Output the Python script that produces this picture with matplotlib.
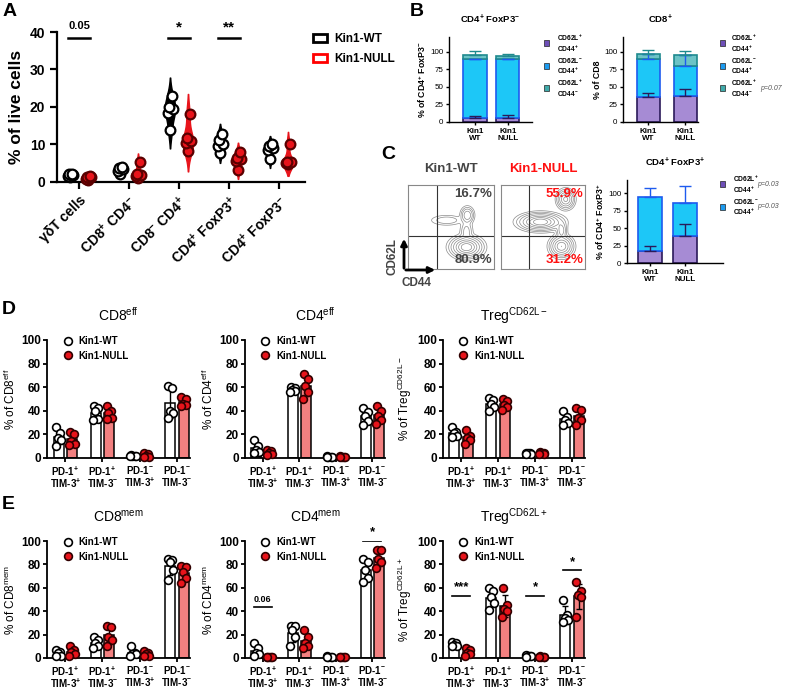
import numpy as np
import matplotlib
matplotlib.use('Agg')
import matplotlib.pyplot as plt
import matplotlib.patches as mpatches
from matplotlib.lines import Line2D
from matplotlib import mlab

plt.rcParams['font.family'] = ['Liberation Sans', 'DejaVu Sans']
plt.rcParams['mathtext.fontset'] = 'custom'
plt.rcParams['mathtext.rm'] = 'Liberation Sans'
plt.rcParams['mathtext.it'] = 'Liberation Sans:italic'
plt.rcParams['mathtext.bf'] = 'Liberation Sans:bold'
plt.rcParams['mathtext.default'] = 'regular'

# ---------------- DATA ----------------
# Panel A
a_categories = ['γδT cells', 'CD8$^{+}$ CD4$^{-}$', 'CD8$^{-}$ CD4$^{+}$',
                'CD4$^{+}$ FoxP3$^{+}$', 'CD4$^{+}$ FoxP3$^{-}$']
a_wt = [[1.2, 1.5, 1.8, 2.0, 2.2], [2.0, 3.0, 3.5, 3.8, 4.0], [13.8, 18.3, 19.5, 20.0, 23.0],
        [7.8, 9.5, 10.1, 11.2, 12.8], [6.0, 8.5, 9.0, 9.5, 10.0]]
a_null = [[0.6, 0.9, 1.2, 1.3, 1.5], [1.0, 1.5, 1.8, 2.0, 5.2], [8.2, 10.5, 11.0, 11.6, 18.1],
          [3.3, 5.6, 6.2, 6.5, 8.0], [4.9, 5.0, 5.2, 5.2, 10.1]]
a_sig_groups = [0, 2, 3]
a_sig_labels = ['0.05', '*', '**']
a_yticks = [0, 10, 20, 30, 40]
groups_legend = ['Kin1-WT', 'Kin1-NULL']

# Panel B / C (stacked)
stack_labels = ['CD62L$^{+}$\nCD44$^{+}$', 'CD62L$^{-}$\nCD44$^{+}$', 'CD62L$^{+}$\nCD44$^{-}$']
bar_ticklabels = ['Kin1\nWT', 'Kin1\nNULL']
b1_vals = [[6, 6], [83, 83], [7, 5]]
b1_errs = [[3, 4], [1, 1], [5, 3]]
b2_vals = [[36, 37], [53, 43], [8, 16]]
b2_errs = [[5, 10], [8, 16], [6, 5]]
c_vals = [[17, 38], [78, 48]]
c_errs = [[8, 18], [12, 25]]
b2_pvals = ['', '', 'p=0.07']
c_pvals = ['p=0.03', 'p=0.03']
stack_yticks = [0, 25, 50, 75, 100]

# Panel C flow
flow_pct_wt = ['16.7%', '80.9%']
flow_pct_null = ['55.9%', '31.2%']
# cluster params: x, y, sx, sy, weight (fraction of plot box)
flow_wt_clusters = [(0.68, 0.26, 0.08, 0.055, 1.0), (0.69, 0.64, 0.035, 0.045, 0.3),
                    (0.45, 0.58, 0.09, 0.03, 0.08), (0.68, 0.45, 0.035, 0.06, 0.12)]
flow_null_clusters = [(0.47, 0.56, 0.11, 0.045, 1.0), (0.77, 0.83, 0.045, 0.05, 0.6),
                      (0.72, 0.27, 0.06, 0.055, 0.75), (0.72, 0.46, 0.03, 0.05, 0.25)]
flow_levels = [0.012, 0.035, 0.08, 0.17, 0.32, 0.52, 0.75]

# Panels D / E
pd_groups = ['PD-1$^{+}$\nTIM-3$^{+}$', 'PD-1$^{+}$\nTIM-3$^{-}$',
             'PD-1$^{-}$\nTIM-3$^{+}$', 'PD-1$^{-}$\nTIM-3$^{-}$']
de_yticks = [0, 20, 40, 60, 80, 100]
d_cd8eff_wt = [[26, 21, 17, 15, 10], [44, 42, 40, 33, 32], [2.5, 2, 2, 1.5, 1.5], [61, 59, 40, 38, 34]]
d_cd8eff_null = [[22, 20, 14, 12, 11], [44, 40, 38, 34, 33], [4, 3.5, 2, 1, 1], [52, 50, 46, 45, 44]]
d_cd4eff_wt = [[15, 10, 7, 5, 4], [60, 59, 58, 57, 56], [1.5, 1, 1, 0.8, 0.5], [42, 39, 36, 31, 28]]
d_cd4eff_null = [[7, 6, 4, 3, 2.5], [71, 67, 61, 56, 50], [1.5, 1.2, 1, 1, 0.8], [44, 40, 36, 32, 29]]
d_treg_wt = [[26, 22, 21, 19, 18], [51, 49, 46, 43, 40], [4.5, 4, 4, 3.5, 3], [40, 35, 32, 30, 28]]
d_treg_null = [[24, 19, 17, 15, 12], [50, 48, 45, 43, 41], [5.5, 4.5, 4, 3.5, 3], [42, 41, 34, 32, 28]]
e_cd8mem_wt = [[7, 5, 4, 2, 1.5], [18, 15.5, 13, 10, 8.5], [10, 4, 3.4, 3, 2], [85, 83.5, 82, 75, 66.5]]
e_cd8mem_null = [[10, 7, 5, 3, 1.5], [27, 26.5, 18, 15.5, 10], [6, 4, 3, 2, 1.5], [79, 78, 73.6, 68, 64]]
e_cd4mem_wt = [[13, 8.5, 4, 3, 1.5], [27, 27, 24, 18, 10], [1.5, 1.2, 1, 0.8, 0.5], [85, 82, 75.6, 68, 65]]
e_cd4mem_null = [[1.2, 1, 0.8, 0.6, 0.5], [24, 18, 13, 10, 8.5], [1.2, 1, 1, 0.8, 0.5], [92.6, 92, 85, 82, 76.5]]
e_treg_wt = [[14, 13, 11, 10.5, 10], [59.5, 57, 52, 47, 41], [2.5, 2, 1.5, 1.5, 1], [49.6, 37, 34, 32.6, 31]]
e_treg_null = [[8.5, 7, 4, 3, 1.5], [59.5, 45, 42, 40, 35.4], [1.5, 1, 1, 0.8, 0.5], [65, 57, 54, 52, 35]]
e_cd4mem_sig = [(0, '0.06', 44), (3, '*', 100)]
e_treg_sig = [(0, '***', 53), (2, '*', 53), (3, '*', 75)]

# ---------------- STYLE ----------------
W, H = 786, 689
fig = plt.figure(figsize=(W / 100, H / 100), dpi=100)
RED = '#E8141B'
PURPLE, PURPLE_E = '#A68BD4', '#2B1A5A'
BLUE, BLUE_E = '#1DC7F7', '#1E5BEF'
TEAL, TEAL_E = '#6CC3C6', '#1F8A8E'
stack_fc = [PURPLE, BLUE, TEAL]
stack_ec = [PURPLE_E, BLUE_E, TEAL_E]
stack_leg = ['#6E4FB8', '#1C9BF0', '#3FAAAA']


def ax_px(l, r, t, b):
    return fig.add_axes([l / W, 1 - b / H, (r - l) / W, (b - t) / H])


def fx(x):
    return x / W


def fy(y):
    return 1 - y / H


def clean(ax, lw=1.2):
    for s in ['top', 'right']:
        ax.spines[s].set_visible(False)
    for s in ['left', 'bottom']:
        ax.spines[s].set_linewidth(lw)


def letter(x, y, s):
    fig.text(fx(x), fy(y), s, fontsize=14, fontweight='bold', va='top', ha='left')


# ---------------- PANEL A ----------------
axA = ax_px(57, 305, 32, 182)
clean(axA, 1.6)
off = 0.18
jitA = [0.0, -0.05, 0.05, -0.03, 0.04]
for i, (w, n) in enumerate(zip(a_wt, a_null)):
    for data, pos, col in [(w, i - off, 'black'), (n, i + off, RED)]:
        d = np.asarray(data, float)
        kde = mlab.GaussianKDE(d, 'scott')
        bw = np.sqrt(kde.covariance.item())
        coords = np.linspace(d.min() - 2 * bw, d.max() + 2 * bw, 100)
        vals = kde.evaluate(coords)
        st = [dict(coords=coords, vals=vals, mean=d.mean(), median=np.median(d), min=d.min(), max=d.max())]
        vp = axA.violin(st, positions=[pos], widths=0.21, showmeans=False, showextrema=False,
                        showmedians=False)
        for b in vp['bodies']:
            b.set_facecolor(col)
            b.set_edgecolor(col)
            b.set_alpha(1)
            b.set_zorder(2)
        fc = 'white' if col == 'black' else RED
        ec = 'black' if col == 'black' else '#5a0000'
        axA.plot(pos + np.array(jitA[:len(d)]), d, 'o', ms=7, mfc=fc, mec=ec, mew=1.6, zorder=3,
                 clip_on=False)
axA.set_xlim(-0.44, 4.52)
axA.set_ylim(0, 40)
axA.set_yticks(a_yticks)
axA.set_xticks(range(len(a_categories)))
axA.set_xticklabels(a_categories, rotation=45, ha='right', va='top', rotation_mode='anchor',
                    fontsize=10, fontweight='bold')
axA.tick_params(axis='y', labelsize=10, width=1.6, length=5)
axA.tick_params(axis='x', width=1.6, length=5, pad=3)
for t in axA.get_yticklabels():
    t.set_fontweight('bold')
axA.set_ylabel('% of live cells', fontsize=12.5, fontweight='bold', labelpad=4)
for g, lab in zip(a_sig_groups, a_sig_labels):
    axA.plot([g - 0.22, g + 0.22], [38.4, 38.4], color='black', lw=1.8, clip_on=False)
    axA.text(g, 40.2 if lab == '0.05' else 39.3, lab, ha='center', va='bottom',
             fontsize=8 if lab == '0.05' else 11, fontweight='bold', clip_on=False)
legA = [mpatches.Patch(facecolor='white', edgecolor='black', lw=2),
        mpatches.Patch(facecolor='white', edgecolor='red', lw=2)]
fig.legend(legA, groups_legend, loc='upper left', bbox_to_anchor=(fx(313), fy(33)),
           frameon=False, prop={'weight': 'bold', 'size': 8.5},
           handlelength=1.2, handleheight=0.7, handletextpad=0.6, labelspacing=0.7,
           borderpad=0, borderaxespad=0)
letter(3, 3, 'A')


# ---------------- PANEL B / C stacked ----------------
def stacked(ax, vals, errs, xlim, ylim, title, ylabel, width):
    clean(ax, 1.0)
    x = np.arange(2)
    bottoms = np.zeros(2)
    for k, (v, e) in enumerate(zip(vals, errs)):
        v = np.asarray(v, float)
        ax.bar(x, v, bottom=bottoms, width=width, color=stack_fc[k], edgecolor=stack_ec[k],
               lw=1.2, zorder=2)
        tops = bottoms + v
        ax.errorbar(x, tops, yerr=[np.zeros(2), e], fmt='none', ecolor=stack_ec[k],
                    elinewidth=1.0, capsize=4, capthick=1.0, zorder=3)
        bottoms = tops
    ax.set_xlim(*xlim)
    ax.set_ylim(0, ylim)
    ax.set_yticks(stack_yticks)
    ax.set_xticks(x)
    ax.set_xticklabels(bar_ticklabels, fontsize=5.8, fontweight='bold', linespacing=1.1)
    ax.tick_params(axis='y', labelsize=5.8, width=1.0, length=2.5, pad=1.5)
    ax.tick_params(axis='x', width=1.0, length=2.5, pad=1.5)
    ax.set_title(title, fontsize=6.8, fontweight='bold', pad=10)
    ax.set_ylabel(ylabel, fontsize=6.3, fontweight='bold', labelpad=1.5)


def stack_legend(x_sq, x_txt, ys, labels, colors, pvals=None, x_p=None):
    for k, (y, lab) in enumerate(zip(ys, labels)):
        fig.patches.append(mpatches.Rectangle((fx(x_sq - 2.5), fy(y + 2.5)), 5 / W, 5 / H,
                                              transform=fig.transFigure, facecolor=colors[k],
                                              edgecolor='#222222', lw=0.5))
        fig.text(fx(x_txt), fy(y), lab, fontsize=4.8, fontweight='bold', va='center', ha='left',
                 linespacing=1.05)
        if pvals is not None and pvals[k]:
            fig.text(fx(x_p), fy(y), pvals[k], fontsize=5, style='italic', color='#555555',
                     va='center', ha='left')


axB1 = ax_px(449, 532, 37, 122)
stacked(axB1, b1_vals, b1_errs, (-0.79, 1.73), 121, 'CD4$^{+}$ FoxP3$^{-}$',
        '% of CD4$^{+}$ FoxP3$^{-}$', 0.7)
stack_legend(546, 557, [43, 66, 88], stack_labels, stack_leg)
axB2 = ax_px(623, 698, 37, 122)
stacked(axB2, b2_vals, b2_errs, (-0.68, 1.35), 121, 'CD8$^{+}$', '% of CD8', 0.62)
stack_legend(722, 731, [43, 66, 88], stack_labels, stack_leg, b2_pvals, 760)
letter(410, 3, 'B')

axC = ax_px(627, 723, 180, 263)
stacked(axC, c_vals, c_errs, (-0.66, 2.1), 119, 'CD4$^{+}$ FoxP3$^{+}$',
        '% of CD4$^{+}$ FoxP3$^{+}$', 0.68)
stack_legend(722, 733, [184, 207], stack_labels[:2], stack_leg, c_pvals, 757)
letter(381, 146, 'C')

# flow plots
gx = np.linspace(0, 1, 300)
GX, GY = np.meshgrid(gx, gx)


def flow(ax, clusters, qx, qy, pcts, color, name, namecolor):
    Z = np.zeros_like(GX)
    for (cx, cy, sx, sy, wgt) in clusters:
        Z += wgt * np.exp(-((GX - cx) ** 2 / (2 * sx ** 2) + (GY - cy) ** 2 / (2 * sy ** 2)))
    lev = Z.max() * np.array(flow_levels)
    ax.contour(GX, GY, Z, levels=lev, colors='#8a8a8a', linewidths=0.5)
    ax.axvline(qx, color='#333333', lw=0.8)
    ax.axhline(qy, color='#333333', lw=0.8)
    ax.set_xlim(0, 1)
    ax.set_ylim(0, 1)
    ax.set_xticks([])
    ax.set_yticks([])
    for s in ax.spines.values():
        s.set_color('#888888')
        s.set_linewidth(0.8)
    ax.text(0.98, 0.97, pcts[0], transform=ax.transAxes, ha='right', va='top', fontsize=9.5,
            fontweight='bold', color=color)
    ax.text(0.98, 0.03, pcts[1], transform=ax.transAxes, ha='right', va='bottom', fontsize=9.5,
            fontweight='bold', color=color)
    ax.text(0.5, 1.12, name, transform=ax.transAxes, ha='center', va='bottom', fontsize=9.5,
            fontweight='bold', color=namecolor)


axF1 = ax_px(408, 494, 185, 269)
flow(axF1, flow_wt_clusters, 0.34, 0.39, flow_pct_wt, '#444444', 'Kin1-WT', '#444444')
axF2 = ax_px(501, 585, 185, 269)
flow(axF2, flow_null_clusters, 0.33, 0.39, flow_pct_null, '#FF1010', 'Kin1-NULL', '#FF1010')
fig.patches.append(mpatches.FancyArrowPatch((fx(404), fy(271)), (fx(404), fy(236)),
                                            transform=fig.transFigure, arrowstyle='-|>',
                                            mutation_scale=9, lw=2, color='black'))
fig.patches.append(mpatches.FancyArrowPatch((fx(403), fy(270)), (fx(438), fy(270)),
                                            transform=fig.transFigure, arrowstyle='-|>',
                                            mutation_scale=9, lw=2, color='black'))
fig.text(fx(392), fy(257), 'CD62L', rotation=90, ha='center', va='center', fontsize=8.5,
         fontweight='bold', color='#444444')
fig.text(fx(401), fy(283), 'CD44', ha='left', va='center', fontsize=8.5,
         fontweight='bold', color='#444444')


# ---------------- PANELS D / E ----------------
jitD = [-0.06, 0.05, -0.02, 0.07, -0.07]


def dotbar(ax, wt, nl, title, ylabel, sigs=()):
    clean(ax, 1.3)
    x = np.arange(4)
    o = 0.18
    bw = 0.27
    for data, sh, fcb, fcp, ecp in [(wt, -o, 'white', 'white', 'black'),
                                    (nl, o, '#F28080', RED, '#300000')]:
        means = np.array([np.mean(d) for d in data])
        sds = np.array([np.std(d, ddof=1) for d in data])
        ax.bar(x + sh, means, width=bw, color=fcb, edgecolor='black', lw=1.1, zorder=2)
        ax.errorbar(x + sh, means, yerr=sds, fmt='none', ecolor='black', elinewidth=1.0,
                    capsize=2.5, capthick=1.0, zorder=3)
        for i, d in enumerate(data):
            ax.plot(x[i] + sh + np.array(jitD[:len(d)]), d, 'o', ms=5.6, mfc=fcp, mec=ecp,
                    mew=1.2, zorder=4, clip_on=False)
    ax.set_xlim(-0.49, 3.35)
    ax.set_ylim(0, 100)
    ax.set_yticks(de_yticks)
    ax.set_xticks(x)
    ax.set_xticklabels(pd_groups, fontsize=7, fontweight='bold', linespacing=0.95)
    ax.tick_params(axis='y', labelsize=8.5, width=1.3, length=3, pad=1.5)
    ax.tick_params(axis='x', width=1.3, length=3, pad=1.5)
    for t in ax.get_yticklabels():
        t.set_fontweight('bold')
    ax.set_title(title, fontsize=10, pad=14)
    ax.set_ylabel(ylabel, fontsize=8.5, labelpad=2)
    for g, lab, y in sigs:
        ax.plot([g - 0.24, g + 0.24], [y, y], color='black', lw=1.2, zorder=5)
        ax.text(g, y + 2, lab, ha='center', va='bottom', fontweight='bold',
                fontsize=6.5 if lab[0] == '0' else 9.5, zorder=5)
    handles = [Line2D([], [], ls='none', marker='o', ms=5.6, mfc='white', mec='black', mew=1.2),
               Line2D([], [], ls='none', marker='o', ms=5.6, mfc=RED, mec='#300000', mew=1.2)]
    ax.legend(handles, groups_legend, loc='upper left', bbox_to_anchor=(0.11, 1.03),
              frameon=False, prop={'weight': 'bold', 'size': 7}, handlelength=1.0,
              handletextpad=0.6, labelspacing=0.45, borderpad=0, borderaxespad=0)


rowD = (340, 458)
rowE = (541, 658)
cols = [(47, 190), (245, 385), (443, 585)]
dotbar(ax_px(cols[0][0], cols[0][1], *rowD), d_cd8eff_wt, d_cd8eff_null,
       'CD8$^{eff}$', '% of CD8$^{eff}$')
dotbar(ax_px(cols[1][0], cols[1][1], *rowD), d_cd4eff_wt, d_cd4eff_null,
       'CD4$^{eff}$', '% of CD4$^{eff}$')
dotbar(ax_px(cols[2][0], cols[2][1], *rowD), d_treg_wt, d_treg_null,
       'Treg$^{CD62L-}$', '% of Treg$^{CD62L-}$')
dotbar(ax_px(cols[0][0], cols[0][1], *rowE), e_cd8mem_wt, e_cd8mem_null,
       'CD8$^{mem}$', '% of CD8$^{mem}$')
dotbar(ax_px(cols[1][0], cols[1][1], *rowE), e_cd4mem_wt, e_cd4mem_null,
       'CD4$^{mem}$', '% of CD4$^{mem}$', e_cd4mem_sig)
dotbar(ax_px(cols[2][0], cols[2][1], *rowE), e_treg_wt, e_treg_null,
       'Treg$^{CD62L+}$', '% of Treg$^{CD62L+}$', e_treg_sig)
letter(2, 301, 'D')
letter(2, 496, 'E')

fig.savefig('out.png', dpi=100)
